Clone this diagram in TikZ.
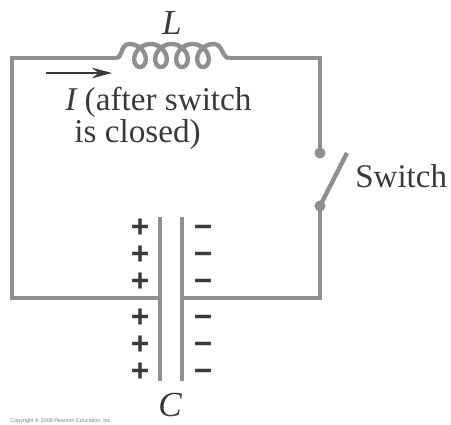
\documentclass[tikz,border=0pt]{standalone}
\usepackage{fontspec}
\setmainfont{Liberation Serif}
\setsansfont{Liberation Sans}
\usetikzlibrary{arrows.meta}
\definecolor{wiregray}{HTML}{8F8F91}
\definecolor{inkgray}{HTML}{3A3A3C}
\tikzset{
  wire/.style={draw=wiregray,line width=2.5pt,line join=miter},
  swdot/.style={circle,fill=wiregray,inner sep=0pt,minimum size=0.22cm},
  lbl/.style={text=inkgray,font=\fontsize{18.9}{22}\selectfont,inner sep=0pt},
  charge/.style={text=inkgray,font=\sffamily\bfseries\fontsize{18}{18}\selectfont,inner sep=0pt,anchor=base}
}
\begin{document}
\begin{tikzpicture}[x=0.02cm,y=-0.02cm]
        \useasboundingbox (0,0) rectangle (451,424);

        \coordinate (nw) at (12,58);
        \coordinate (ne) at (320,58);
        \coordinate (sw) at (12,298);
        \coordinate (se) at (320,298);
        \coordinate (coilL) at (116,58);
        \coordinate (coilR) at (229,58);
        \coordinate (plateL) at (160,298);
        \coordinate (plateR) at (182,298);
        \coordinate (plateLt) at (160,217);
        \coordinate (plateLb) at (160,381);
        \coordinate (plateRt) at (182,217);
        \coordinate (plateRb) at (182,381);
        \coordinate (bladeEnd) at (347,153);
        \coordinate (arrowA) at (46,73);
        \coordinate (arrowB) at (112,73);

        \node[swdot] (s1) at (320,153) {};
        \node[swdot] (s2) at (320,206) {};

        % wires
        \draw[wire] (plateL) -- (sw) -- (nw) -- (coilL);
        \draw[wire] (coilR) -- (ne) -- (s1.center);
        \draw[wire] (s2.center) -- (se) -- (plateR);
        \draw[wire] (s2.center) -- (bladeEnd);

        % inductor
        \draw[wire,line join=round] (coilL) .. controls (123,58) and (120,44) .. (129.5,44)
          -- plot[domain=0:1440,samples=160] ({129.5+\x/360*21+10.5*sin(\x)},{55.5-11.5*cos(\x)})
          .. controls (223,44) and (222,58) .. (coilR);

        % capacitor
        \draw[wire] (plateLt) -- (plateLb);
        \draw[wire] (plateRt) -- (plateRb);
        \foreach \i/\y in {1/237,2/264,3/291,4/327,5/354,6/381} {
          \node[charge] (p\i) at (140,\y) {+};
          \node[charge] (m\i) at (203,\y) {−};
        }

        \draw[-{Stealth[length=0.4cm,width=0.21cm]},line width=1.5pt,draw=inkgray,fill=inkgray] (arrowA) -- (arrowB);

        \node[lbl] (L) at (172,23) {\fontsize{20}{24}\selectfont\itshape L};
        \node[lbl,anchor=base west] (I) at (65,110) {\itshape I\upshape\ (after switch};
        \node[lbl,anchor=base west] (closed) at (74,142) {is closed)};
        \node[lbl,anchor=base west,font=\fontsize{18.8}{22}\selectfont] (swlabel) at (355,187) {Switch};
        \node[lbl] (C) at (170,405) {\fontsize{20}{24}\selectfont\itshape C};
        \node[anchor=base west,inner sep=0pt,text=gray,font=\sffamily\fontsize{3.1}{4}\selectfont] (copy) at (10,422) {Copyright © 2008 Pearson Education, Inc.};
      \end{tikzpicture}
\end{document}
